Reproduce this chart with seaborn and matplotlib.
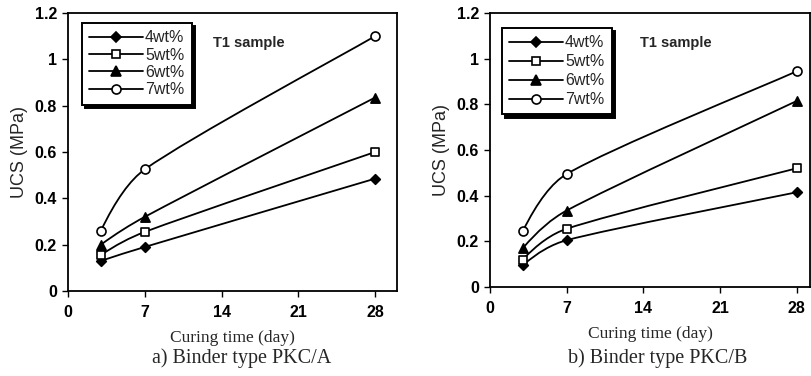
import numpy as np
import matplotlib
matplotlib.use("Agg")
import matplotlib.pyplot as plt
from matplotlib.path import Path
from matplotlib.patches import PathPatch
from matplotlib.lines import Line2D
import seaborn as sns

# curing days and mix labels
days = [3, 7, 28]
mixes = ["4wt%", "5wt%", "6wt%", "7wt%"]

# UCS (MPa), binder type PKC/A
pkc_a_4 = [0.13, 0.19, 0.485]
pkc_a_5 = [0.155, 0.255, 0.60]
pkc_a_6 = [0.20, 0.32, 0.835]
pkc_a_7 = [0.26, 0.525, 1.10]

# UCS (MPa), binder type PKC/B
pkc_b_4 = [0.095, 0.205, 0.415]
pkc_b_5 = [0.12, 0.255, 0.52]
pkc_b_6 = [0.17, 0.335, 0.815]
pkc_b_7 = [0.245, 0.495, 0.945]

x_ticks = [0, 7, 14, 21, 28]
y_ticks = [0, 0.2, 0.4, 0.6, 0.8, 1.0, 1.2]
y_tick_labels = ["0", "0.2", "0.4", "0.6", "0.8", "1", "1.2"]

# marker, face colour, scatter size, legend marker size
styles = {
    "4wt%": ("D", "black", 24, 5),
    "5wt%": ("s", "white", 36, 6),
    "6wt%": ("^", "black", 44, 6.8),
    "7wt%": ("o", "white", 42, 6.5),
}

sns.set_style("ticks")
plt.rcParams["font.family"] = ["Liberation Sans", "DejaVu Sans"]
plt.rcParams["axes.edgecolor"] = "black"
plt.rcParams["xtick.color"] = "black"
plt.rcParams["ytick.color"] = "black"


def smooth_path(xs, ys):
    # smoothed line through the points, drawn as bezier segments
    x = np.asarray(xs, float)
    y = np.asarray(ys, float)
    n = len(x)
    sec = np.diff(y) / np.diff(x)
    m = np.zeros(n)
    for i in range(1, n - 1):
        m[i] = (y[i + 1] - y[i - 1]) / (x[i + 1] - x[i - 1])
    m[0] = 2 * sec[0] - m[1]
    m[-1] = sec[-1]
    verts = [(x[0], y[0])]
    codes = [Path.MOVETO]
    for i in range(n - 1):
        h = x[i + 1] - x[i]
        if i == 0:
            d1 = h / 3
        else:
            d1 = min(h / 3, (x[i + 1] - x[i - 1]) / 6)
        if i + 1 == n - 1:
            d2 = h / 6
        else:
            d2 = min(h / 3, (x[i + 2] - x[i]) / 6)
        verts += [(x[i] + d1, y[i] + m[i] * d1),
                  (x[i + 1] - d2, y[i + 1] - m[i + 1] * d2),
                  (x[i + 1], y[i + 1])]
        codes += [Path.CURVE4] * 3
    return Path(verts, codes)


def draw_panel(ax, series, xmax, anchor, text_x, spacing):
    for name, vals in zip(mixes, series):
        ax.add_patch(PathPatch(smooth_path(days, vals), fc="none",
                               ec="black", lw=1.3, zorder=2))
        m, fc, s, _ = styles[name]
        sns.scatterplot(x=days, y=vals, ax=ax, marker=m, s=s, color=fc,
                        edgecolor="black", linewidth=1.2, zorder=3,
                        legend=False)

    ax.set_xlim(0, xmax)
    ax.set_ylim(0, 1.2)
    ax.set_xticks(x_ticks)
    ax.set_yticks(y_ticks)
    ax.set_yticklabels(y_tick_labels)
    ax.tick_params(axis="both", direction="out", length=4, width=1,
                   labelsize=11.5)
    ax.tick_params(axis="x", pad=6)
    ax.tick_params(axis="y", pad=4)
    for lab in ax.get_xticklabels() + ax.get_yticklabels():
        lab.set_fontweight("bold")
    for sp in ax.spines.values():
        sp.set_visible(True)
        sp.set_linewidth(1.3)

    ax.set_xlabel("Curing time (day)", family="Liberation Serif",
                  fontsize=12.5, labelpad=7)
    ax.set_ylabel("UCS (MPa)", fontsize=13, labelpad=5)

    ax.text(text_x, 1.07, "T1 sample", fontsize=10.5, fontweight="bold",
            va="center", ha="left")

    handles = []
    for name in mixes:
        m, fc, _, ms = styles[name]
        handles.append(Line2D([], [], color="black", lw=1.3, marker=m,
                              ms=ms, mfc=fc, mec="black", mew=1.2))
    leg = ax.legend(handles, mixes, loc="upper left", bbox_to_anchor=anchor,
                    borderaxespad=0, fancybox=False, framealpha=1,
                    edgecolor="black", fontsize=11.5, handlelength=3.4,
                    handletextpad=0.1, labelspacing=spacing,
                    borderpad=0.45,
                    shadow={"color": "black", "alpha": 1, "ox": 2.5,
                            "oy": -2.5})
    leg.get_frame().set_linewidth(1.4)


fig = plt.figure(figsize=(8.11, 3.76), dpi=100)

ax1 = fig.add_axes([68 / 811, 1 - 291 / 376, 329 / 811, 278 / 376])
draw_panel(ax1, [pkc_a_4, pkc_a_5, pkc_a_6, pkc_a_7], 30,
           (14 / 329, 1 - 10 / 278), 13.2, 0.15)

ax2 = fig.add_axes([490 / 811, 1 - 287 / 376, 320 / 811, 274 / 376])
draw_panel(ax2, [pkc_b_4, pkc_b_5, pkc_b_6, pkc_b_7], 29.2,
           (12 / 320, 1 - 15 / 274), 13.7, 0.25)

fig.text(242 / 811, 1 - 358 / 376, "a) Binder type PKC/A",
         family="Liberation Serif", fontsize=14.5, ha="center", va="center")
fig.text(658 / 811, 1 - 358 / 376, "b) Binder type PKC/B",
         family="Liberation Serif", fontsize=14.5, ha="center", va="center")

fig.savefig("out.png", dpi=100)
